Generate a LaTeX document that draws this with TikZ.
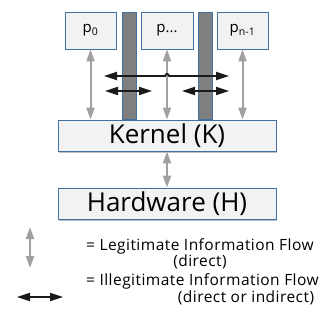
\documentclass[tikz,border=0pt]{standalone}
\usepackage{fontspec}
\setmainfont{Open Sans}
\usetikzlibrary{arrows.meta, shadows}

\definecolor{boxline}{HTML}{41719C}
\definecolor{boxfill}{HTML}{F2F2F2}
\definecolor{barfill}{HTML}{7F7F7F}
\definecolor{legitgray}{HTML}{A0A0A0}
\definecolor{illegit}{HTML}{1A1A1A}

\newcommand{\legendfont}{\fontsize{15.5}{18}\selectfont\addfontfeatures{LetterSpace=3}}

\tikzset{
  layer/.style={draw=boxline, fill=boxfill, line width=0.9pt, inner sep=0pt,
    drop shadow={shadow xshift=1pt, shadow yshift=-1.5pt, fill=black!50, opacity=0.5}},
  wall/.style={draw=boxline, fill=barfill, line width=0.9pt, inner sep=0pt,
    minimum width=14pt, minimum height=107pt},
  legit/.style={legitgray, line width=2pt, {Triangle[width=8pt,length=12pt]}-{Triangle[width=8pt,length=12pt]}},
  illegal/.style={illegit, line width=1.8pt, {Triangle[width=8pt,length=13pt]}-{Triangle[width=8pt,length=13pt]}}
}

\begin{document}
\begin{tikzpicture}[x=1pt, y=-1pt]
\useasboundingbox (0,0) rectangle (320,326);

% processes
\node[layer, minimum width=51pt, minimum height=37pt, font=\fontsize{15}{17}\selectfont] (p0) at (90.5,30.5) {p\textsubscript{0}};
\node[layer, minimum width=52pt, minimum height=37pt, font=\fontsize{15}{17}\selectfont] (pdots) at (167,30.5) {p...};
\node[layer, minimum width=51pt, minimum height=37pt, font=\fontsize{15}{17}\selectfont] (pn) at (242.5,30.5) {p\textsubscript{n-1}};

% isolation walls between processes
\node[wall] (wallA) at (129,65.5) {};
\node[wall] (wallB) at (205,65.5) {};

% kernel and hardware
\node[layer, minimum width=218pt, minimum height=31pt, font=\fontsize{26}{30}\selectfont] (kern) at (167,135.5) {Kernel (K)};
\node[layer, minimum width=218pt, minimum height=31pt, font=\fontsize{26}{30}\selectfont] (hw) at (167,203.5) {Hardware (H)};

% legitimate flows
\draw[legit] (p0.south) -- (p0.south |- kern.north);
\draw[legit] (pdots.south) -- (pdots.south |- kern.north);
\draw[legit] (pn.south) -- (pn.south |- kern.north);
\draw[legit] (kern.south) -- (hw.north);

% illegitimate flows
\coordinate (longL) at (104,76);
\coordinate (longR) at (229,76);
\coordinate (hop) at (165,76);
\coordinate (leftL) at (105,91);
\coordinate (leftR) at (152,91);
\coordinate (rightL) at (182,91);
\coordinate (rightR) at (229,91);
\draw[illegal] (longL) -- (hop) arc (180:0:2pt) -- (longR);
\draw[illegal] (leftL) -- (leftR);
\draw[illegal] (rightL) -- (rightR);

% legend
\coordinate (legA) at (30,227);
\coordinate (legB) at (30,268);
\coordinate (legC) at (17,297);
\coordinate (legD) at (63,297);
\draw[legit] (legA) -- (legB);
\draw[illegal] (legC) -- (legD);
\node[anchor=west, inner sep=0pt, font=\legendfont] (legitTxt) at (86,246) {= Legitimate Information Flow};
\node[inner sep=0pt, font=\legendfont] (legitSub) at (200,262) {(direct)};
\node[anchor=west, inner sep=0pt, font=\legendfont] (illegTxt) at (86,281) {= Illegitimate Information Flow};
\node[inner sep=0pt, font=\legendfont] (illegSub) at (246,298) {(direct or indirect)};
\end{tikzpicture}
\end{document}
